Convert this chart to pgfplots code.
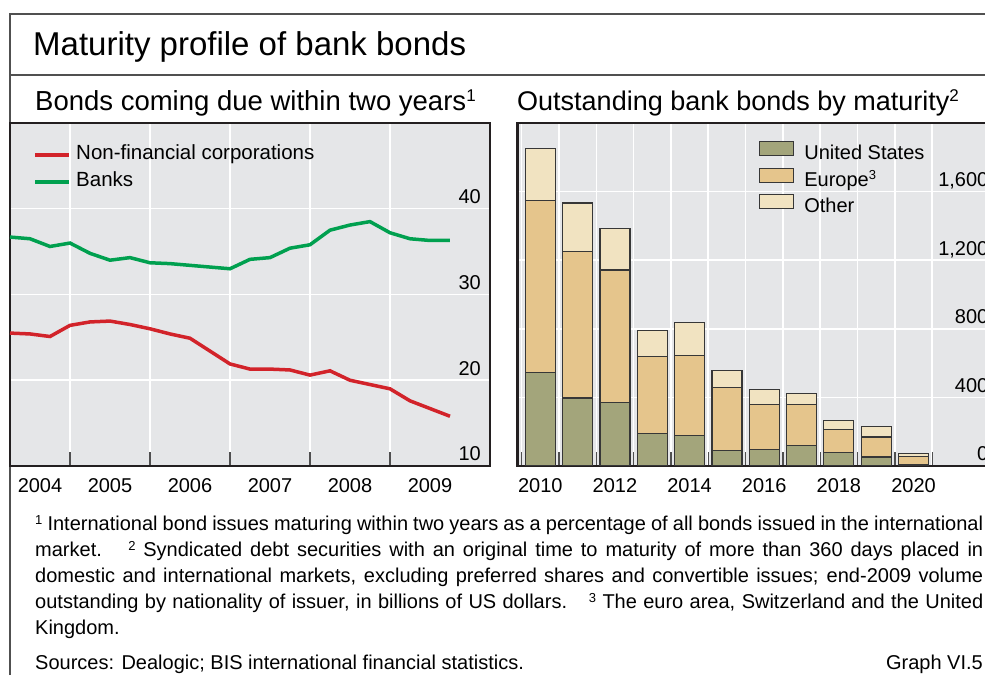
\documentclass[border=0pt]{standalone}
\usepackage{fontspec}
\setmainfont{Liberation Sans}
\usepackage{pgfplots}
\usepackage{pgfplotstable}
\pgfplotsset{compat=1.18}
\definecolor{bggray}{RGB}{229,230,232}
\definecolor{nfcred}{RGB}{210,35,42}
\definecolor{bankgreen}{RGB}{0,160,79}
\definecolor{usgreen}{RGB}{163,165,123}
\definecolor{eurotan}{RGB}{229,197,140}
\definecolor{othcream}{RGB}{241,227,193}
\definecolor{framegray}{RGB}{35,31,32}
\definecolor{edgegray}{RGB}{55,55,55}
\definecolor{rulegray}{RGB}{80,80,80}
\newcommand{\fs}[1]{\fontsize{#1}{#1}\selectfont}
% small superscript: size, raise
\newcommand{\sups}[3]{\raisebox{#2}{\fs{#1}#3}}

\pgfplotstableread{
x       nfc   banks
2004.25 25.5  36.7
2004.50 25.4  36.5
2004.75 25.1  35.6
2005.00 26.4  36.0
2005.25 26.8  34.8
2005.50 26.9  34.0
2005.75 26.5  34.3
2006.00 26.0  33.7
2006.25 25.4  33.6
2006.50 24.9  33.4
2006.75 23.4  33.2
2007.00 21.9  33.0
2007.25 21.3  34.1
2007.50 21.3  34.3
2007.75 21.2  35.4
2008.00 20.6  35.8
2008.25 21.1  37.5
2008.50 20.0  38.1
2008.75 19.5  38.5
2009.00 19.0  37.2
2009.25 17.6  36.5
2009.50 16.7  36.3
2009.75 15.8  36.3
}\lefttable

\pgfplotstableread{
year us  eur  oth
2010 545 1004 300
2011 397 853  284
2012 370 773  241
2013 191 446  153
2014 177 467  193
2015 92  367  100
2016 95  263  90
2017 121 237  64
2018 78  136  51
2019 53  116  61
2020 6   50   18
}\righttable

\pgfplotsset{
  panel/.style={
    scale only axis, width=480pt, height=343pt, anchor=south west,
    axis background/.style={fill=bggray},
    axis line style={framegray, line width=2.5pt},
    grid=major, major grid style={white, line width=1.5pt},
    tick align=inside, xtick pos=lower,
    major tick length=14pt,
    tick style={rulegray, line width=1.3pt},
    ytick style={draw=none},
    yticklabel pos=right,
    yticklabel style={anchor=base east, inner sep=0pt, xshift=-9pt, yshift=5pt},
    xticklabel style={anchor=north, inner sep=0pt, yshift=-12.5pt},
    tick label style={font=\fs{20}},
    /pgf/number format/assume math mode=true,
    /pgf/number format/1000 sep={,},
    extra x tick style={grid=none, major tick length=0pt},
  },
  linelegend/.style={legend image code/.code={\draw[##1, line width=4pt] (0pt,0pt) -- (34pt,0pt);}},
  barlegend/.style={legend image code/.code={\draw[##1, line width=1.2pt] (0pt,-1pt) rectangle (34pt,13pt);}},
}

\begin{document}
\begin{tikzpicture}
\useasboundingbox (0pt,0pt) rectangle (985pt,675pt);
\begin{scope}
\clip (0pt,0pt) rectangle (985pt,675pt);
% frame
\draw[rulegray, line width=1.4pt] (10pt,0pt) -- (10pt,661pt) -- (990pt,661pt);
\draw[rulegray, line width=1.4pt] (10pt,600pt) -- (990pt,600pt);
\node[anchor=base west, inner sep=0pt, font=\fs{33}] at (33pt,619pt) {Maturity profile of bank bonds};
\node[anchor=base west, inner sep=0pt, font=\fs{27.5}] at (35pt,564pt) {Bonds coming due within two years\sups{17}{9pt}{1}};
\node[anchor=base west, inner sep=0pt, font=\fs{27}] at (517pt,564pt) {Outstanding bank bonds by maturity\sups{17}{9pt}{2}};

% left panel
\begin{axis}[panel, at={(10pt,209pt)},
  xmin=2004.25, xmax=2010.25, ymin=10, ymax=50,
  xtick={2005,2006,2007,2008,2009}, xticklabels={},
  extra x ticks={2004.625,2005.5,2006.5,2007.5,2008.5,2009.5},
  extra x tick labels={2004,2005,2006,2007,2008,2009},
  ytick={10,20,30,40},
  legend style={draw=none, fill=none, at={(0.048,0.937)}, anchor=north west,
    inner sep=0pt, column sep=5pt, row sep=7pt, font=\fs{20.5},
    nodes={inner sep=0pt, text height=15pt, text depth=5pt}},
  legend cell align=left,
]
\addplot[nfcred, line width=3.5pt, linelegend] table[x=x, y=nfc] {\lefttable};
\addlegendentry{Non-financial corporations}
\addplot[bankgreen, line width=3.5pt, linelegend] table[x=x, y=banks] {\lefttable};
\addlegendentry{Banks}
\end{axis}

% right panel
\begin{axis}[panel, at={(517.5pt,209pt)},
  ybar stacked, bar width=30pt,
  xmin=2009.39, xmax=2022.25, ymin=0, ymax=2000,
  xtick={2009.5,2010.5,2011.5,2012.5,2013.5,2014.5,2015.5,2016.5,2017.5,2018.5,2019.5,2020.5},
  xticklabels={},
  extra x ticks={2010,2012,2014,2016,2018,2020},
  extra x tick labels={2010,2012,2014,2016,2018,2020},
  ytick={0,400,800,1200,1600},
  legend style={draw=none, fill=none, at={(0.503,0.948)}, anchor=north west,
    inner sep=0pt, column sep=10pt, row sep=3pt, font=\fs{20},
    nodes={inner sep=0pt, text height=15pt, text depth=5pt}},
  legend cell align=left,
]
\addplot[fill=usgreen, draw=edgegray, line width=1.2pt, barlegend] table[x=year, y=us] {\righttable};
\addlegendentry{United States}
\addplot[fill=eurotan, draw=edgegray, line width=1.2pt, barlegend] table[x=year, y=eur] {\righttable};
\addlegendentry{Europe\sups{13}{7pt}{3}}
\addplot[fill=othcream, draw=edgegray, line width=1.2pt, barlegend] table[x=year, y=oth] {\righttable};
\addlegendentry{Other}
\end{axis}

% footnotes
\begin{scope}[every node/.style={anchor=base west, inner sep=0pt, font=\fs{20}}]
\node at (35pt,145pt) {\makebox[948pt][s]{\sups{13}{6pt}{1} International bond issues maturing within two years as a percentage of all bonds issued in the international}};
\node at (35pt,119pt) {\makebox[948pt][s]{market.\hspace{12pt} \sups{13}{6pt}{2} Syndicated debt securities with an original time to maturity of more than 360 days placed in}};
\node at (35pt,93pt) {\makebox[948pt][s]{domestic and international markets, excluding preferred shares and convertible issues; end-2009 volume}};
\node at (35pt,67pt) {\makebox[948pt][s]{outstanding by nationality of issuer, in billions of US dollars.\hspace{12pt} \sups{13}{6pt}{3} The euro area, Switzerland and the United}};
\node at (35pt,41pt) {Kingdom.};
\node at (35pt,6pt) {Sources: Dealogic; BIS international financial statistics.};
\node[anchor=base east] at (983pt,6pt) {Graph VI.5};
\end{scope}
\end{scope}
\end{tikzpicture}
\end{document}
